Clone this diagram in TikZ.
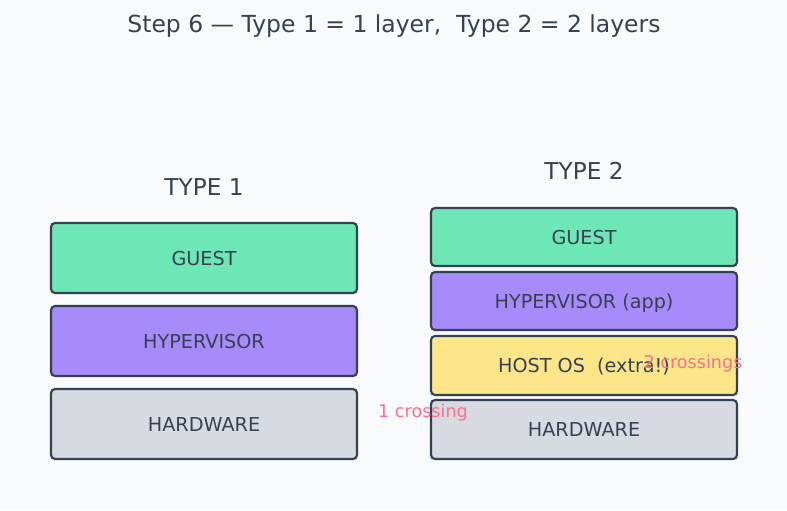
\documentclass[tikz,border=0pt]{standalone}
\usepackage{fontspec}
\setmainfont{DejaVu Sans}
\definecolor{bg}{HTML}{F9FAFC}
\definecolor{ink}{HTML}{334155}
\definecolor{txt}{HTML}{374151}
\definecolor{gst}{HTML}{6EE7B7}
\definecolor{hyp}{HTML}{A78BFA}
\definecolor{hos}{HTML}{FDE68A}
\definecolor{hw}{HTML}{D8DAE2}
\definecolor{cross}{HTML}{F87187}
\tikzset{
  layer/.style={draw=ink, line width=1.6pt, rounded corners=3pt},
  lbl/.style={text=txt, anchor=base, font=\fontsize{14.4}{17}\selectfont},
  head/.style={text=txt, anchor=base, font=\fontsize{17.4}{21}\selectfont},
  note/.style={text=cross, anchor=base, font=\fontsize{13.2}{16}\selectfont}
}
\begin{document}
\begin{tikzpicture}[x=0.75pt,y=-0.75pt]
\fill[bg] (0,0) rectangle (787,510);
\useasboundingbox (0,0) rectangle (787,510);
\node[text=txt, anchor=base, font=\fontsize{17.6}{21}\selectfont] (title) at (394,32.5) {Step 6 — Type 1 = 1 layer,\ \ Type 2 = 2 layers};
\node[head] (t1) at (204,195) {TYPE 1};
\node[head] (t2) at (584,179) {TYPE 2};
% Type 1
\draw[layer, fill=gst] (51,223) rectangle (357,293);
\node[lbl] (g1) at (204,265) {GUEST};
\draw[layer, fill=hyp] (51,306) rectangle (357,376);
\node[lbl] (h1) at (204,348) {HYPERVISOR};
\draw[layer, fill=hw] (51,389) rectangle (357,459);
\node[lbl] (w1) at (204,431) {HARDWARE};
% Type 2
\draw[layer, fill=gst] (431,208) rectangle (737,266);
\node[lbl] (g2) at (584,244) {GUEST};
\draw[layer, fill=hyp] (431,272) rectangle (737,330);
\node[lbl] (h2) at (584,308) {HYPERVISOR (app)};
\draw[layer, fill=hos] (431,336) rectangle (737,395);
\node[lbl] (o2) at (584,372.5) {HOST OS\ \ (extra!)};
\draw[layer, fill=hw] (431,400) rectangle (737,459);
\node[lbl] (w2) at (584,436.5) {HARDWARE};
% notes
\node[note] (n1) at (423,417) {1 crossing};
\node[note] (n2) at (693,368) {2 crossings};
\end{tikzpicture}
\end{document}
